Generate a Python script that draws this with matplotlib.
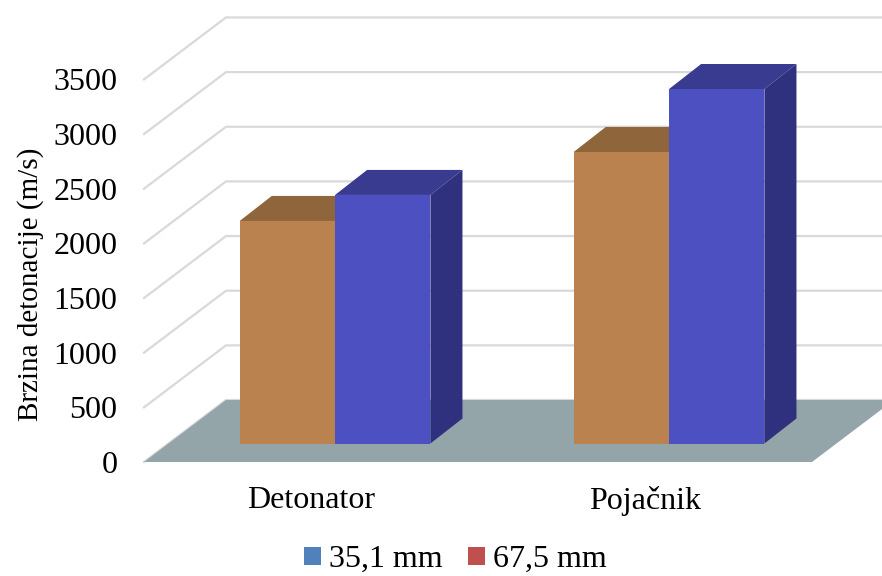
# 3D looking clustered bars, drawn by hand with polygons
import matplotlib
matplotlib.use('Agg')
import matplotlib.pyplot as plt
from matplotlib.patches import Polygon, Patch

# Data
categories = ['Detonator', 'Pojačnik']
series_names = ['35,1 mm', '67,5 mm']
values_a = [2036, 2667]
values_b = [2274, 3243]
y_ticks = [0, 500, 1000, 1500, 2000, 2500, 3000, 3500]
y_label = 'Brzina detonacije (m/s)'

plt.rcParams['font.family'] = ['Liberation Serif']

fig = plt.figure(figsize=(8.82, 5.76), dpi=100)
ax = fig.add_axes([144/882, 1-462/576, 738/882, 445/576])
ax.set_xlim(-0.5, 1.7096)
ax.set_ylim(0, 4071)

# depth of the floor and of the bars, in data units
floor_dx, floor_dy = 0.2455, 567
bar_dx, bar_dy = 0.096, 229
bar_w = 0.2855
bar_start = -0.2135
bar_base = 169


def draw_bar(x0, h, front, top, side):
    y0 = bar_base
    y1 = bar_base + h
    x1 = x0 + bar_w
    ax.add_patch(Polygon([(x0, y1), (x1, y1), (x1+bar_dx, y1+bar_dy), (x0+bar_dx, y1+bar_dy)],
                         fc=top, ec='none', clip_on=False, zorder=3))
    ax.add_patch(Polygon([(x1, y0), (x1+bar_dx, y0+bar_dy), (x1+bar_dx, y1+bar_dy), (x1, y1)],
                         fc=side, ec='none', clip_on=False, zorder=3))
    ax.add_patch(Polygon([(x0, y0), (x1, y0), (x1, y1), (x0, y1)],
                         fc=front, ec='none', clip_on=False, zorder=3))


# grid lines on the side wall and the back wall
for v in y_ticks:
    ax.plot([-0.5, -0.5+floor_dx, 1.7096], [v, v+floor_dy, v+floor_dy],
            color='#d9d9d9', lw=1.6, clip_on=False, zorder=1)

# floor
ax.add_patch(Polygon([(-0.5, 0), (1.5, 0), (1.5+floor_dx, floor_dy), (-0.5+floor_dx, floor_dy)],
                     fc='#94a5a9', ec='none', clip_on=True, zorder=2))

for i in range(len(categories)):
    draw_bar(i+bar_start, values_a[i], '#ba824f', '#8f653c', '#7d5833')
    draw_bar(i+bar_start+bar_w, values_b[i], '#4c50c0', '#383b8f', '#2f317e')

ax.set_xticks(range(len(categories)))
ax.set_xticklabels(categories)
ax.set_yticks(y_ticks)
ax.tick_params(axis='both', length=0, labelsize=23)
ax.tick_params(axis='y', pad=19)
ax.tick_params(axis='x', pad=17)
for s in ax.spines.values():
    s.set_visible(False)
ax.patch.set_visible(False)

ax.set_ylabel(y_label, fontsize=21)
ax.yaxis.set_label_coords(-100/738, 0.4)

handles = [Patch(fc='#4f81bd', ec='none'), Patch(fc='#c0504d', ec='none')]
fig.legend(handles, series_names, loc='lower left', bbox_to_anchor=(304/882, 0.003),
           ncol=2, frameon=False, fontsize=23, borderpad=0, borderaxespad=0,
           handlelength=0.53, handleheight=0.53, handletextpad=0.25, columnspacing=0.79)

fig.savefig('out.png', dpi=100)
